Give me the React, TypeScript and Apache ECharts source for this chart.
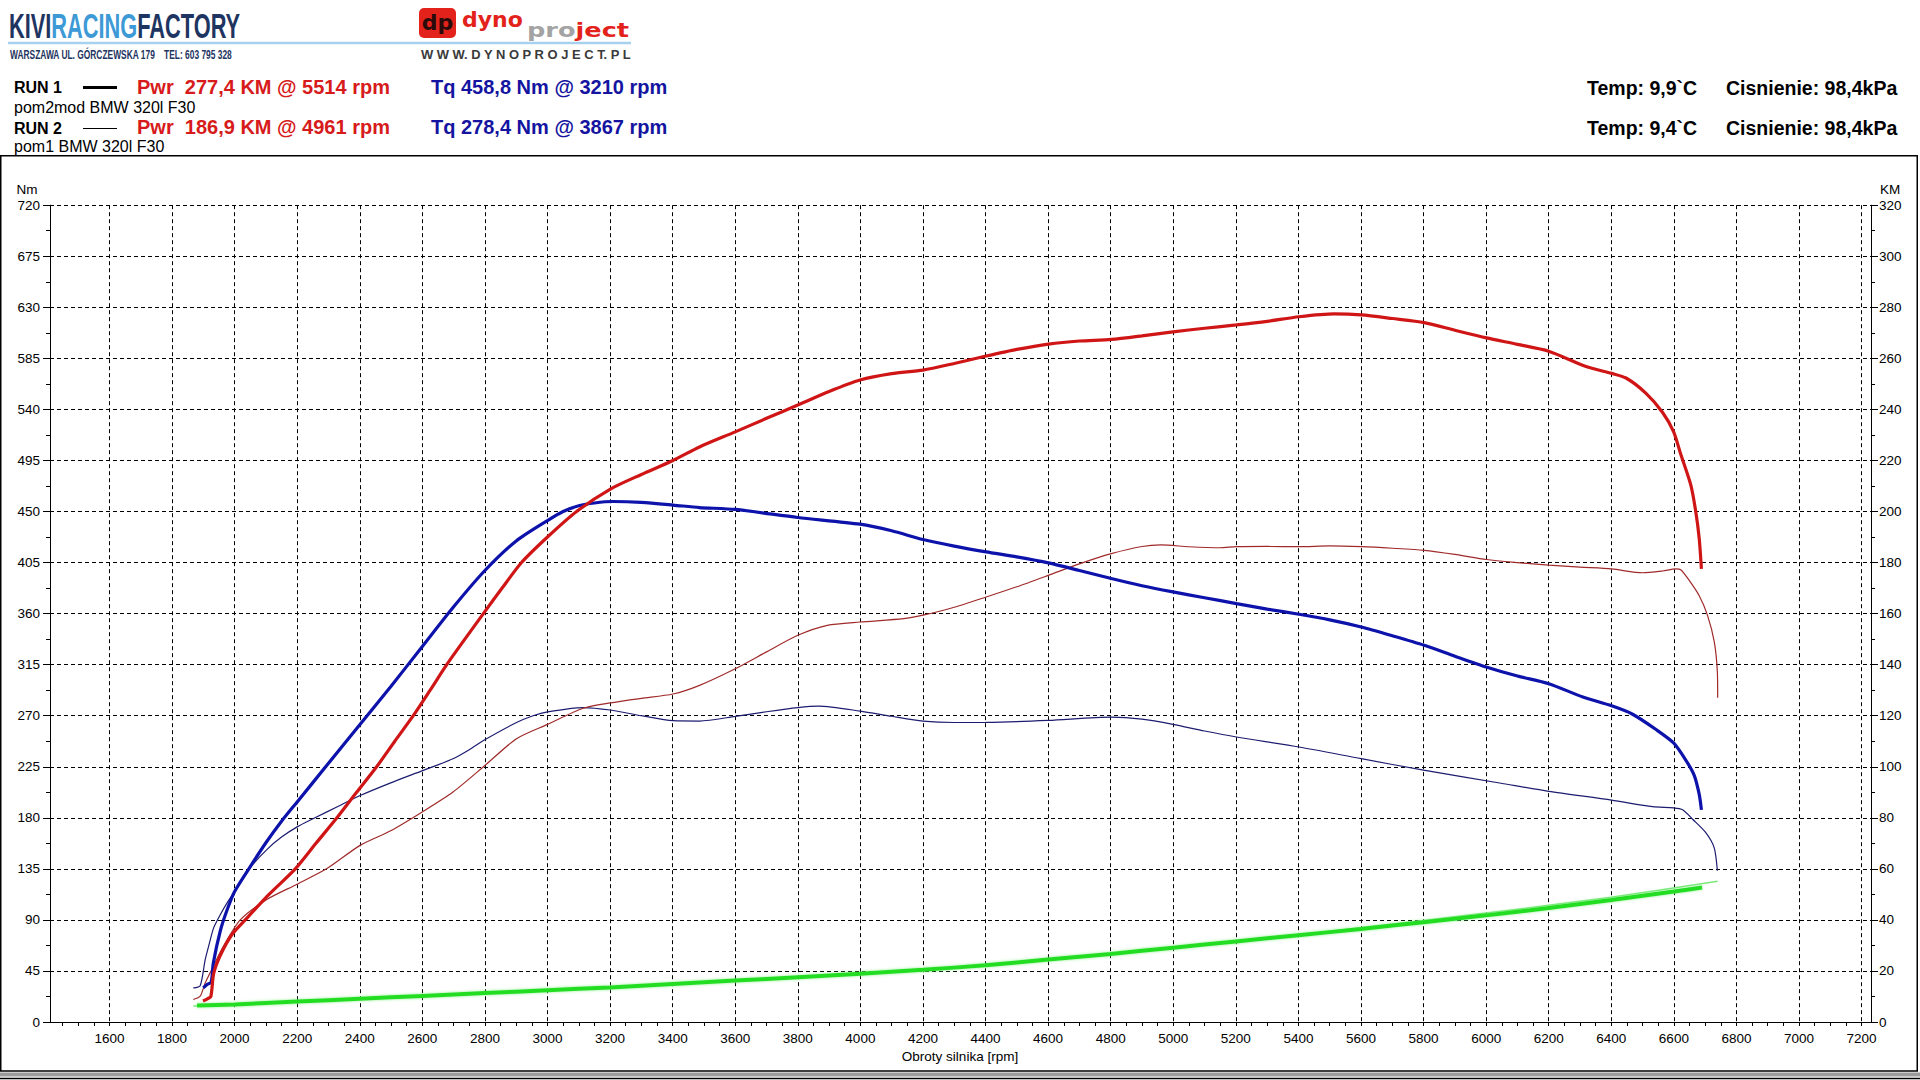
import React, { useEffect, useRef } from "react";
import * as echarts from "echarts";

// ---------- DATA ----------
// x tick labels (rpm)
const xLabelValues = [1600, 1800, 2000, 2200, 2400, 2600, 2800, 3000, 3200, 3400, 3600, 3800, 4000, 4200, 4400, 4600, 4800, 5000, 5200, 5400, 5600, 5800, 6000, 6200, 6400, 6600, 6800, 7000, 7200];
// axis ranges
const NM_MAX = 720;
const NM_STEP = 45;
const KM_MAX = 320;
const KM_STEP = 20;
const RPM_MIN = 1410;
const RPM_MAX = 7230;

// RUN 1 torque [rpm, Nm] (bold blue)
const run1Torque: [number, number][] = [
  [1900, 30], [1912, 33], [1925, 35], [1932, 52], [1954, 80], [1975, 98], [2000, 115], [2050, 137], [2100, 158],
  [2150, 177], [2200, 194], [2300, 228], [2400, 262], [2500, 296], [2600, 331], [2700, 366], [2800, 398],
  [2900, 424], [3000, 442], [3050, 450], [3100, 455], [3150, 457.5], [3210, 458.8], [3300, 458],
  [3401, 455.7], [3486, 453.5], [3600, 451.8], [3800, 444.7], [3999, 438.8], [4100, 433], [4200, 425.3],
  [4300, 419.5], [4402, 414.4], [4500, 410], [4601, 404.7], [4700, 398], [4802, 390.9], [4900, 384.5],
  [4999, 379.1], [5100, 374], [5202, 368.8], [5300, 364], [5402, 359.4], [5500, 354.5], [5601, 348.2],
  [5700, 340.5], [5802, 332.1], [5900, 322.5], [6000, 313], [6100, 305], [6200, 298.2], [6309, 286.5],
  [6401, 278.7], [6468, 271.3], [6543, 257.8], [6599, 246], [6638, 230.9], [6665, 217.4], [6681, 200.6],
  [6688, 187],
];

// RUN 1 power [rpm, KM] (bold red)
const run1Power: [number, number][] = [
  [1899, 8.2], [1912, 9], [1924, 10], [1933, 18.9], [1954, 26], [1990, 34], [2034, 40], [2110, 50],
  [2194, 60], [2260, 70], [2327, 80], [2390, 90], [2454, 100], [2512, 110], [2571, 120], [2625, 130],
  [2678, 140], [2736, 150], [2795, 160], [2855, 170], [2917, 180], [3000, 190], [3093, 200], [3201, 208.8],
  [3300, 214.5], [3401, 220], [3486, 225.3], [3600, 231.2], [3700, 236.5], [3800, 241.7], [3900, 247],
  [3999, 251.5], [4100, 254], [4200, 255.4], [4300, 258], [4402, 260.9], [4500, 263.5], [4601, 265.6],
  [4700, 266.8], [4802, 267.4], [4900, 268.8], [4999, 270.4], [5100, 271.8], [5202, 273.1], [5300, 274.5],
  [5402, 276.3], [5514, 277.4], [5601, 277], [5700, 275.6], [5802, 274], [5900, 271], [6001, 268],
  [6100, 265.5], [6200, 262.8], [6319, 256.8], [6401, 254.1], [6447, 252.3], [6511, 246.3], [6564, 238.8],
  [6599, 231.3], [6622, 222.4], [6654, 210.4], [6670, 199.9], [6681, 189.4], [6688, 177.5],
];

// RUN 2 torque [rpm, Nm] (thin navy)
const run2Torque: [number, number][] = [
  [1868, 30], [1890, 32], [1906, 55], [1920, 70], [1933, 83], [1955, 95], [1976, 105], [2000, 115], [2050, 136],
  [2103, 152], [2150, 163], [2200, 172], [2257, 180], [2330, 190], [2401, 199.6], [2497, 210.6],
  [2601, 221.6], [2698, 232], [2750, 240], [2801, 249], [2901, 264], [2954, 270], [3000, 273.4],
  [3114, 277.2], [3201, 275], [3300, 270], [3401, 265.6], [3486, 265.3], [3600, 269.4], [3700, 273.5],
  [3800, 277.1], [3867, 278.4], [3999, 274.1], [4100, 269.5], [4200, 265.3], [4300, 264], [4402, 264.1],
  [4601, 265.9], [4802, 268.8], [4900, 267], [4999, 262.4], [5100, 256.5], [5202, 251.2], [5402, 242.4],
  [5601, 232.1], [5800, 222], [6043, 210.7], [6200, 203.3], [6401, 195.6], [6532, 189.8], [6599, 188.8],
  [6628, 187.1], [6660, 178.7], [6702, 166.9], [6729, 153.5], [6739, 133.3],
];

// RUN 2 power [rpm, KM] (thin dark red)
const run2Power: [number, number][] = [
  [1868, 8.8], [1890, 10.1], [1905, 15], [1927, 20.6], [1961, 29], [2018, 40], [2103, 48], [2200, 54],
  [2295, 60.1], [2401, 69.2], [2497, 74.8], [2601, 82.4], [2698, 90.1], [2801, 100.6], [2901, 111],
  [3000, 116.6], [3114, 122.9], [3201, 125], [3300, 126.8], [3401, 128.5], [3486, 131.9], [3600, 138.4],
  [3700, 145], [3800, 151.5], [3894, 155.4], [3999, 156.7], [4138, 158], [4200, 159.4], [4300, 162.5],
  [4402, 166.5], [4500, 170.5], [4601, 175], [4700, 179.5], [4802, 183.5], [4900, 186.3], [4961, 186.9],
  [5050, 186.2], [5149, 185.8], [5202, 186.2], [5300, 186.3], [5402, 186.2], [5500, 186.5], [5601, 186.2],
  [5700, 185.6], [5802, 184.8], [5900, 183.2], [6001, 181.2], [6100, 180], [6200, 179], [6300, 178.2],
  [6401, 177.5], [6500, 176], [6564, 176.7], [6606, 177.5], [6622, 177.2], [6649, 173], [6681, 167],
  [6707, 159.5], [6729, 149], [6739, 137], [6740, 127],
];

// losses (green) [rpm, Nm]
const run1Loss: [number, number][] = [
  [1880, 14.5], [2000, 15.5], [2200, 18], [2400, 20.5], [2600, 23], [2800, 25.5], [3000, 28], [3200, 30.5],
  [3400, 33.5], [3600, 36.5], [3800, 39.5], [4000, 42.5], [4200, 46], [4400, 50], [4600, 55], [4800, 60],
  [5000, 65.5], [5200, 71], [5400, 76.5], [5600, 82], [5800, 88], [6000, 94], [6200, 100.5], [6400, 107.5],
  [6600, 115], [6690, 118.5],
];
const run2Loss: [number, number][] = [
  [1868, 14], [2000, 15.5], [2400, 20.5], [2800, 25.5], [3200, 30.5], [3600, 36.5], [4000, 42.5], [4400, 50],
  [4800, 60], [5200, 71.5], [5600, 83], [6000, 96], [6400, 110], [6740, 124],
];

// ---------- LAYOUT ----------
const GX0 = 50;
const GX1 = 1871;
const GT = 205.2;
const GH = 816.8;
const K = (GX1 - GX0) / (RPM_MAX - RPM_MIN);
const xpx = (r: number) => GX0 + (r - RPM_MIN) * K;

const FONT = '"Liberation Sans", Arial, sans-serif';
const NB = "\u00a0";

function buildOption(): any {
  const txt = (x: number, y: number, text: string, font: string, fill: string, extra: any = {}) => ({
    type: "text",
    x,
    y,
    silent: true,
    ...extra,
    style: {
      text,
      font,
      fill,
      textAlign: extra.align || "left",
      align: extra.align || "left",
      textVerticalAlign: "middle",
      verticalAlign: "middle",
      ...(extra.style || {}),
    },
  });

  const graphic: any[] = [
    // outer frame
    { type: "rect", silent: true, z: -10, shape: { x: 0.75, y: 155.7, width: 1916.5, height: 915.3 }, style: { fill: "none", stroke: "#000", lineWidth: 1.5 } },
    { type: "rect", silent: true, shape: { x: 0, y: 1072.5, width: 1920, height: 4 }, style: { fill: "#9c9c9c" } },
    { type: "line", silent: true, shape: { x1: 0, y1: 1078.5, x2: 1920, y2: 1078.5 }, style: { stroke: "#000", lineWidth: 1.5 } },

    // KIVI RACING FACTORY logo
    {
      type: "text", x: 9, y: 25.5, scaleX: 0.605, silent: true,
      style: {
        text: "{a|KIVI}{b|RACING}{a|FACTORY}",
        font: `bold 36px ${FONT}`,
        verticalAlign: "middle", textVerticalAlign: "middle",
        rich: {
          a: { fill: "#1e3461", fontSize: 36, fontWeight: "bold", fontFamily: FONT },
          b: { fill: "#3d9ad6", fontSize: 36, fontWeight: "bold", fontFamily: FONT },
        },
      },
    },
    { type: "line", silent: true, shape: { x1: 8, y1: 43, x2: 631, y2: 43 }, style: { stroke: "#a6d2ef", lineWidth: 2.5 } },
    txt(10, 55, `WARSZAWA UL. GÓRCZEWSKA 179${NB}${NB}${NB} TEL: 603 795 328`, `bold 12px ${FONT}`, "#1e3461", { scaleX: 0.7 }),

    // dynoproject logo
    { type: "rect", silent: true, shape: { x: 419, y: 8, width: 37, height: 30, r: 5 }, style: { fill: "#e3231b" } },
    txt(437.5, 22, "dp", `bold 22px "DejaVu Sans", sans-serif`, "#2b0a0a", { align: "center" }),
    txt(462, 19, "dyno", `bold 22px "DejaVu Sans", sans-serif`, "#e3231b", { scaleX: 1.0 }),
    {
      type: "text", x: 527, y: 30, scaleX: 1.28, silent: true,
      style: {
        text: "{g|pro}{r|ject}",
        font: `bold 20px "DejaVu Sans", sans-serif`,
        verticalAlign: "middle", textVerticalAlign: "middle",
        rich: {
          g: { fill: "#a3a3a3", fontSize: 20, fontWeight: "bold", fontFamily: '"DejaVu Sans", sans-serif' },
          r: { fill: "#e3231b", fontSize: 20, fontWeight: "bold", fontFamily: '"DejaVu Sans", sans-serif' },
        },
      },
    },
    txt(421, 55, "W W W. D Y N O P R O J E C T. P L", `bold 12px ${FONT}`, "#3a3a3a", { scaleX: 1.08 }),

    // run legend
    txt(14, 87, "RUN 1", `bold 16px ${FONT}`, "#000"),
    { type: "line", silent: true, shape: { x1: 83, y1: 87.5, x2: 117, y2: 87.5 }, style: { stroke: "#000", lineWidth: 3 } },
    txt(137, 87, `Pwr${NB} 277,4 KM @ 5514 rpm`, `bold 20px ${FONT}`, "#d71a1a"),
    txt(431, 87, "Tq 458,8 Nm @ 3210 rpm", `bold 20px ${FONT}`, "#1414a0"),
    txt(14, 107, "pom2mod BMW 320l F30", `16px ${FONT}`, "#000"),
    txt(14, 128.5, "RUN 2", `bold 16px ${FONT}`, "#000"),
    { type: "line", silent: true, shape: { x1: 83, y1: 128.5, x2: 117, y2: 128.5 }, style: { stroke: "#000", lineWidth: 1 } },
    txt(137, 127, `Pwr${NB} 186,9 KM @ 4961 rpm`, `bold 20px ${FONT}`, "#d71a1a"),
    txt(431, 127, "Tq 278,4 Nm @ 3867 rpm", `bold 20px ${FONT}`, "#1414a0"),
    txt(14, 146.5, "pom1 BMW 320l F30", `16px ${FONT}`, "#000"),

    txt(1587, 88, "Temp: 9,9`C", `bold 19.5px ${FONT}`, "#000"),
    txt(1726, 88, "Cisnienie: 98,4kPa", `bold 19.5px ${FONT}`, "#000"),
    txt(1587, 128, "Temp: 9,4`C", `bold 19.5px ${FONT}`, "#000"),
    txt(1726, 128, "Cisnienie: 98,4kPa", `bold 19.5px ${FONT}`, "#000"),

    // axis names
    txt(27, 189.5, "Nm", `13.5px ${FONT}`, "#000", { align: "center" }),
    txt(1890, 189.5, "KM", `13.5px ${FONT}`, "#000", { align: "center" }),
    txt(960, 1056, "Obroty silnika [rpm]", `13.5px ${FONT}`, "#000", { align: "center" }),
  ];

  const line = (data: [number, number][], yAxisIndex: number, color: string, width: number, z: number, extra: any = {}) => ({
    type: "line",
    xAxisIndex: 0,
    yAxisIndex,
    data,
    showSymbol: false,
    symbol: "none",
    silent: true,
    smooth: 0.25,
    z,
    lineStyle: { color, width, ...extra },
    emphasis: { disabled: true },
  });

  return {
    animation: false,
    backgroundColor: "#ffffff",
    grid: [
      { left: GX0, top: GT, width: GX1 - GX0, height: GH },
      { left: xpx(1450), top: GT, width: xpx(7200) - xpx(1450), height: GH },
      { left: xpx(1600), top: GT, width: xpx(7200) - xpx(1600), height: GH },
    ],
    xAxis: [
      {
        gridIndex: 0, type: "value", min: RPM_MIN, max: RPM_MAX,
        axisLine: { show: true, onZero: false, lineStyle: { color: "#000", width: 1 } },
        axisTick: { show: false }, axisLabel: { show: false }, splitLine: { show: false },
      },
      {
        gridIndex: 1, type: "value", min: 1450, max: 7200, interval: 50,
        axisLine: { show: false, onZero: false },
        axisTick: { show: true, length: 4, lineStyle: { color: "#000", width: 1 } },
        axisLabel: {
          color: "#000", fontSize: 13.5, fontFamily: FONT, margin: 9,
          formatter: (v: number) => (xLabelValues.indexOf(Math.round(v)) >= 0 ? String(Math.round(v)) : ""),
        },
        splitLine: { show: false },
      },
      {
        gridIndex: 2, type: "value", min: xLabelValues[0], max: xLabelValues[xLabelValues.length - 1], interval: 200,
        axisLine: { show: false, onZero: false }, axisTick: { show: false }, axisLabel: { show: false },
        splitLine: { show: true, lineStyle: { color: "#000", width: 1, type: [4, 3] } },
      },
    ],
    yAxis: [
      {
        gridIndex: 0, type: "value", position: "left", min: 0, max: NM_MAX, interval: NM_STEP,
        axisLine: { show: true, onZero: false, lineStyle: { color: "#000", width: 1 } },
        axisTick: { show: true, length: 7, lineStyle: { color: "#000" } },
        minorTick: { show: true, splitNumber: 2, length: 4, lineStyle: { color: "#000" } },
        axisLabel: { color: "#000", fontSize: 13.5, fontFamily: FONT, margin: 10 },
        splitLine: { show: true, lineStyle: { color: "#000", width: 1, type: [4, 3] } },
      },
      {
        gridIndex: 0, type: "value", position: "right", min: 0, max: KM_MAX, interval: KM_STEP,
        axisLine: { show: true, onZero: false, lineStyle: { color: "#000", width: 1 } },
        axisTick: { show: true, length: 7, lineStyle: { color: "#000" } },
        minorTick: { show: true, splitNumber: 2, length: 4, lineStyle: { color: "#000" } },
        axisLabel: { color: "#000", fontSize: 13.5, fontFamily: FONT, margin: 8 },
        splitLine: { show: false },
      },
      { gridIndex: 1, type: "value", show: false, min: 0, max: 1 },
      { gridIndex: 2, type: "value", show: false, min: 0, max: 1 },
    ],
    series: [
      line(run2Loss, 0, "#7be87b", 1.5, 2),
      line(run1Loss, 0, "#22dd22", 4, 3, { shadowBlur: 3, shadowColor: "rgba(120,240,120,0.8)" }),
      line(run2Torque, 0, "#1c1c70", 1.2, 4),
      line(run2Power, 1, "#a02a2a", 1.2, 5),
      line(run1Torque, 0, "#0c12aa", 3.2, 6),
      line(run1Power, 1, "#cf1515", 3.2, 7),
    ],
    graphic,
  };
}

export default function App() {
  const ref = useRef<HTMLDivElement>(null);
  useEffect(() => {
    if (!ref.current) return;
    const chart = echarts.init(ref.current, null, { renderer: "svg" });
    chart.setOption(buildOption());
    return () => chart.dispose();
  }, []);
  return (
    <div
      ref={ref}
      style={{ position: "fixed", left: 0, top: 0, width: 1920, height: 1080, background: "#fff" }}
    />
  );
}
